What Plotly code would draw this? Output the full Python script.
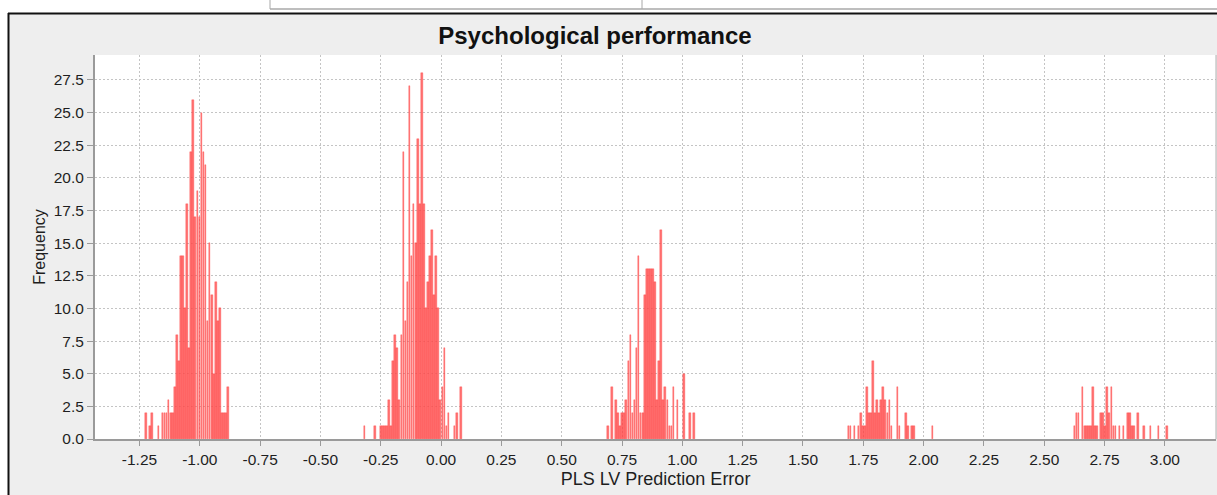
import plotly.graph_objects as go

# ---------------- data ----------------
BIN_WIDTH = 0.0085
cluster_starts = [-1.227, -0.322, 0.687, 1.684, 2.621]
cluster1 = [2, 0, 1, 2, 0, 0, 1, 0, 2, 2, 2, 3, 2, 2, 4, 8, 6, 14, 14, 10, 18, 7, 22, 26, 17,
            19, 17, 25, 22, 21, 9, 15, 11, 5, 12, 9, 10, 2, 2, 2, 4]
cluster2 = [1, 0, 0, 0, 0, 1, 0, 0, 1, 1, 1, 1, 3, 1, 6, 8, 7, 3, 8, 22, 9, 12, 27, 14, 18,
            15, 23, 18, 28, 18, 10, 12, 14, 16, 11, 14, 10, 3, 4, 7, 1, 2, 0, 0, 1, 2, 0, 4]
cluster3 = [1, 0, 4, 0, 3, 2, 1, 2, 2, 3, 6, 8, 2, 3, 7, 14, 2, 2, 11, 13, 13, 13, 13, 12, 3,
            6, 16, 3, 4, 3, 1, 1, 4, 0, 3, 0, 0, 5, 0, 0, 2, 0, 2]
cluster4 = [1, 1, 0, 1, 0, 1, 2, 1, 1, 4, 2, 2, 6, 2, 3, 2, 3, 4, 3, 2, 3, 1, 0, 0, 4,
            1, 0, 0, 2, 1, 0, 1, 1, 0, 0, 0, 0, 0, 0, 0, 0, 1]
cluster5 = [1, 2, 2, 0, 4, 1, 1, 1, 1, 4, 1, 1, 0, 2, 2, 1, 4, 2, 4, 1, 1, 0, 1, 0, 1,
            0, 2, 2, 1, 1, 0, 2, 0, 0, 1, 0, 0, 1, 0, 0, 0, 1, 0, 0, 0, 1]
clusters = [cluster1, cluster2, cluster3, cluster4, cluster5]

x_ticks = [-1.25, -1.0, -0.75, -0.5, -0.25, 0.0, 0.25, 0.5, 0.75, 1.0, 1.25, 1.5,
           1.75, 2.0, 2.25, 2.5, 2.75, 3.0]
y_ticks = [0.0, 2.5, 5.0, 7.5, 10.0, 12.5, 15.0, 17.5, 20.0, 22.5, 25.0, 27.5]

title_text = "Psychological performance"
x_title = "PLS LV Prediction Error"
y_title = "Frequency"

# ---------------- build bars ----------------
xs, ys = [], []
for start, vals in zip(cluster_starts, clusters):
    for i, v in enumerate(vals):
        if v > 0:
            xs.append(start + (i + 0.5) * BIN_WIDTH)
            ys.append(v)

W, H = 1217, 495
L, R, T, B = 95, 1216, 55, 439

fig = go.Figure()
fig.add_trace(go.Bar(
    x=xs, y=ys, width=BIN_WIDTH * 0.8,
    marker=dict(color="rgba(255,85,85,0.82)", line=dict(color="rgba(255,60,60,0.9)", width=0.4)),
    showlegend=False, hoverinfo="x+y",
))

def px(xp):
    return (xp - L) / (R - L)

def py(yp):
    return (B - yp) / (B - T)

shapes = [
    # white strips outside the frame
    dict(type="rect", xref="paper", yref="paper", x0=px(-5), x1=px(W + 5), y0=py(13), y1=py(-5),
         fillcolor="white", line=dict(width=0), layer="above"),
    dict(type="rect", xref="paper", yref="paper", x0=px(-5), x1=px(8), y0=py(H + 5), y1=py(13),
         fillcolor="white", line=dict(width=0), layer="above"),
    # frame border
    dict(type="line", xref="paper", yref="paper", x0=px(8), x1=px(W + 5), y0=py(13.5), y1=py(13.5),
         line=dict(color="#111111", width=2), layer="above"),
    dict(type="line", xref="paper", yref="paper", x0=px(8.5), x1=px(8.5), y0=py(13), y1=py(H + 5),
         line=dict(color="#111111", width=2), layer="above"),
    # toolbar remnant at the top
    dict(type="line", xref="paper", yref="paper", x0=px(270), x1=px(W + 5), y0=py(9), y1=py(9),
         line=dict(color="#a8a8a8", width=1.5), layer="above"),
    dict(type="line", xref="paper", yref="paper", x0=px(270), x1=px(270), y0=py(0), y1=py(9),
         line=dict(color="#a8a8a8", width=1), layer="above"),
    dict(type="line", xref="paper", yref="paper", x0=px(642), x1=px(642), y0=py(0), y1=py(9),
         line=dict(color="#a8a8a8", width=1), layer="above"),
    # right plot border
    dict(type="line", xref="paper", yref="paper", x0=1, x1=1, y0=0, y1=1,
         line=dict(color="#b0b0b0", width=1), layer="above"),
]

font_family = "Liberation Sans, Arial, sans-serif"
grid_dash = "2px,2px"

fig.update_layout(
    width=W, height=H,
    margin=dict(l=L, r=W - R, t=T, b=H - B, pad=0),
    paper_bgcolor="#eeeeee",
    plot_bgcolor="white",
    bargap=0,
    font=dict(family=font_family, size=15, color="#1e1e1e"),
    title=dict(text="<b>" + title_text + "</b>", x=595 / W, xref="container", xanchor="center",
               y=1 - 36 / H, yref="container", yanchor="middle",
               font=dict(family=font_family, size=24, color="#111111")),
    xaxis=dict(
        range=[-1.4345, 3.212], tickvals=x_ticks, ticktext=[f"{v:.2f}" for v in x_ticks],
        showgrid=True, gridcolor="#c4c4c4", griddash=grid_dash, gridwidth=1,
        showline=True, linecolor="#9a9a9a", linewidth=2,
        ticks="outside", ticklen=5, tickcolor="#9a9a9a", tickwidth=1,
        zeroline=False, tickfont=dict(size=15.5, color="#1e1e1e"),
        title=dict(text=x_title, font=dict(size=18, color="#1e1e1e"), standoff=6),
    ),
    yaxis=dict(
        range=[0, 29.41], tickvals=y_ticks, ticktext=[f"{v:.1f}" for v in y_ticks],
        showgrid=True, gridcolor="#c4c4c4", griddash=grid_dash, gridwidth=1,
        showline=True, linecolor="#9a9a9a", linewidth=2,
        ticks="outside", ticklen=6, tickcolor="#9a9a9a", tickwidth=1,
        zeroline=False, tickfont=dict(size=15.5, color="#1e1e1e"),
        title=dict(text=y_title, font=dict(size=16, color="#1e1e1e"), standoff=4),
    ),
    shapes=shapes,
)

fig.write_html("out.html", config={"displayModeBar": False},
               post_script="document.body.style.margin='0';document.body.style.overflow='hidden';")
